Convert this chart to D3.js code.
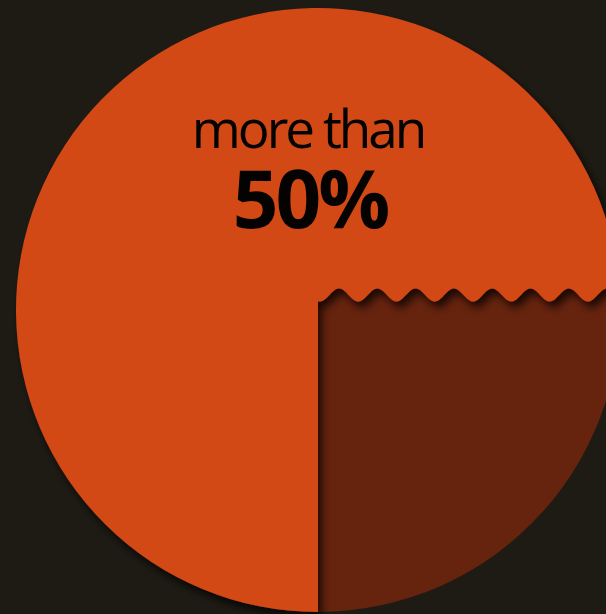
<!DOCTYPE html>
<html><head><meta charset="utf-8">
<script src="https://cdn.jsdelivr.net/npm/d3@7"></script>
<style>html,body{margin:0;padding:0;background:#1e1b14;overflow:hidden}</style>
</head><body>
<script>
// Data
const sliceLabels = ["rest", "share"];
const sliceValues = [75, 25];            // orange (rest) vs dark quarter
const labelLine1 = "more than";
const labelLine2 = "50%";
const colors = { bg: "#1e1b14", main: "#d24917", slice: "#66230e", text: "#050302" };

const W = 606, H = 614;
const cx = 318, cy = 310, R = 302;
const cornerY = 301.5, waveAmp = 6.5, wavePeriod = 38.3, waveCrest0 = 339;

const svg = d3.select("body").append("svg").attr("width", W).attr("height", H);
svg.append("rect").attr("width", W).attr("height", H).attr("fill", colors.bg);

const defs = svg.append("defs");
const f = defs.append("filter").attr("id", "sh").attr("x", "-20%").attr("y", "-20%").attr("width", "140%").attr("height", "140%");
f.append("feDropShadow").attr("dx", 4).attr("dy", 6).attr("stdDeviation", 4)
  .attr("flood-color", "#000").attr("flood-opacity", 0.75);

// pie angles (d3 convention: 0 at top, clockwise)
const arcs = d3.pie().sort(null).startAngle(Math.PI).endAngle(Math.PI * 3)(sliceValues);
// arcs[0]: orange from PI (bottom) round through left, top to 2.5PI (right); arcs[1]: dark from right to bottom
const toPath = a => a - Math.PI / 2;

// Dark slice
const darkA1 = arcs[1].endAngle;
const topY = cornerY - 25;
const aTop = Math.asin((topY - cy) / R);
const dp = d3.path();
dp.moveTo(cx, topY);
dp.lineTo(cx + R * Math.cos(aTop), topY);
dp.arc(cx, cy, R, aTop, toPath(darkA1) - 2 * Math.PI, false);
dp.closePath();
svg.append("path").attr("d", dp.toString()).attr("fill", colors.slice);

// Orange slice with wavy edge
const waveY = x => (cornerY - waveAmp) - waveAmp * Math.cos(2 * Math.PI * (x - waveCrest0) / wavePeriod);
const pts = [];
for (let x = cx; x <= W + 20; x += 1) pts.push([x, waveY(x)]);
const lastX = pts[pts.length - 1][0];
const aEnd = Math.asin((waveY(lastX) - cy) / R);
const op = d3.path();
const bottomA = toPath(arcs[0].startAngle); // PI/2
op.moveTo(cx + R * Math.cos(bottomA), cy + R * Math.sin(bottomA));
op.lineTo(cx, waveY(cx));
pts.forEach(p => op.lineTo(p[0], p[1]));
op.lineTo(cx + R * Math.cos(aEnd), waveY(lastX));
op.arc(cx, cy, R, aEnd, bottomA, true);
op.closePath();
svg.append("path").attr("d", op.toString()).attr("fill", colors.main).attr("filter", "url(#sh)");

// Labels
svg.append("text").attr("x", 308).attr("y", 148).attr("text-anchor", "middle")
  .attr("font-family", "Open Sans").attr("font-size", 53).attr("letter-spacing", -3)
  .attr("fill", colors.text).text(labelLine1);
svg.append("text").attr("x", 310).attr("y", 228).attr("text-anchor", "middle")
  .attr("font-family", "Open Sans").attr("font-weight", 700).attr("font-size", 80).attr("letter-spacing", -3)
  .attr("fill", colors.text).text(labelLine2);
</script>
</body></html>
